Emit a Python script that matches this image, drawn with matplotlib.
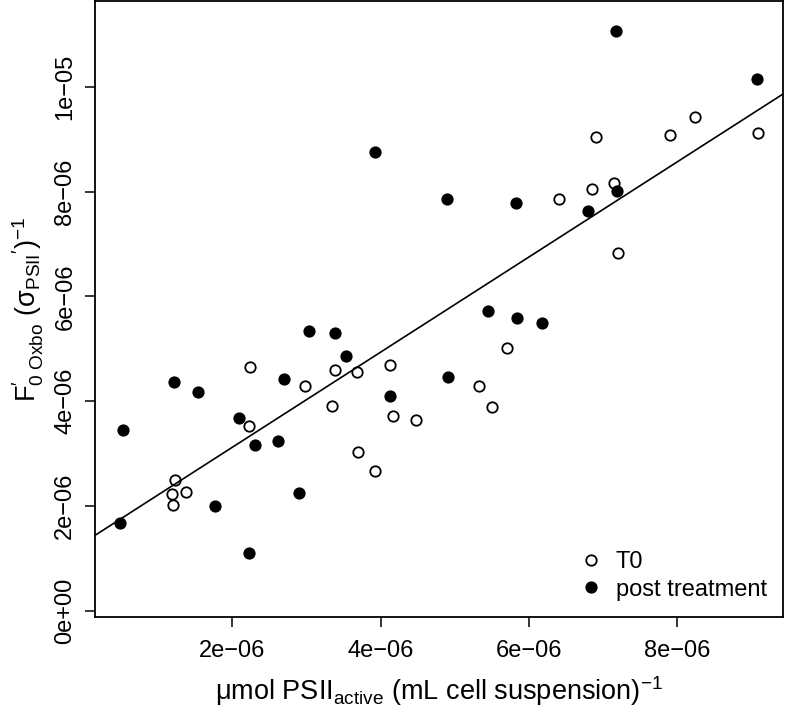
import numpy as np
import matplotlib
matplotlib.use("Agg")
import matplotlib.pyplot as plt

plt.rcParams['font.family'] = ['Liberation Sans', 'DejaVu Sans']
plt.rcParams['mathtext.fontset'] = 'custom'
plt.rcParams['mathtext.rm'] = 'Liberation Sans'
plt.rcParams['mathtext.it'] = 'Liberation Sans'
plt.rcParams['mathtext.bf'] = 'Liberation Sans:bold'

# values in units of 1e-6
t0_x = [2.24, 4.12, 3.38, 3.68, 2.98, 3.35, 4.17, 2.23, 3.70, 3.93, 1.22, 1.19, 1.37,
        1.20, 4.47, 5.33, 5.50, 5.70, 7.20, 6.41, 6.85, 7.14, 6.91, 7.90, 8.24, 9.09]
t0_y = [4.66, 4.69, 4.59, 4.56, 4.28, 3.91, 3.72, 3.52, 3.02, 2.67, 2.49, 2.23, 2.27,
        2.02, 3.64, 4.28, 3.88, 5.01, 6.83, 7.86, 8.05, 8.16, 9.05, 9.09, 9.42, 9.12]
post_x = [3.93, 3.03, 3.38, 3.53, 7.18, 9.08, 4.90, 5.82, 7.19, 6.80, 5.45, 5.84, 6.17,
          1.21, 2.69, 1.54, 4.12, 2.09, 0.52, 2.31, 2.61, 1.77, 2.90, 0.49, 2.23, 4.91]
post_y = [8.75, 5.34, 5.31, 4.87, 11.06, 10.15, 7.86, 7.78, 8.02, 7.63, 5.72, 5.58, 5.50,
          4.36, 4.42, 4.17, 4.10, 3.68, 3.45, 3.17, 3.23, 2.00, 2.25, 1.68, 1.11, 4.47]

xticks = [2e-6, 4e-6, 6e-6, 8e-6]
xtick_labels = ["2e\u221206", "4e\u221206", "6e\u221206", "8e\u221206"]
yticks = [0, 2e-6, 4e-6, 6e-6, 8e-6, 1e-5]
ytick_labels = ["0e+00", "2e\u221206", "4e\u221206", "6e\u221206", "8e\u221206", "1e\u221205"]

sc = 1e-6
tx = np.array(t0_x) * sc
ty = np.array(t0_y) * sc
px = np.array(post_x) * sc
py = np.array(post_y) * sc

fig = plt.figure(figsize=(7.86, 7.18), dpi=100)
ax = fig.add_axes([0.1209, 0.1403, 0.8757, 0.8583])

ax.plot(tx, ty, 'o', mfc='white', mec='black', mew=1.3, ms=7.5, ls='none', label='T0')
ax.plot(px, py, 'o', mfc='black', mec='black', mew=1.3, ms=7.5, ls='none', label='post treatment')

# least squares line through all points
allx = np.concatenate([tx, px])
ally = np.concatenate([ty, py])
slope, icpt = np.polyfit(allx, ally, 1)
xl = np.array([0.148e-6, 9.43e-6])
ax.plot(xl, icpt + slope * xl, color='black', lw=1.2)

ax.set_xlim(0.148e-6, 9.43e-6)
ax.set_ylim(-0.126e-6, 11.64e-6)

ax.set_xticks(xticks)
ax.set_xticklabels(xtick_labels)
ax.set_yticks(yticks)
ax.set_yticklabels(ytick_labels, rotation=90, va='center')
ax.tick_params(axis='both', direction='out', length=7.5, width=1.1, labelsize=17)
ax.tick_params(axis='x', pad=9)
ax.tick_params(axis='y', pad=6)
for s in ax.spines.values():
    s.set_linewidth(1.3)

ax.set_xlabel(r"$\mathregular{\mu mol\ PSII_{active}\ (mL\ cell\ suspension)^{-1}}$",
              fontsize=19.5, labelpad=9)
ax.set_ylabel(r"$\mathregular{F_{0\ Oxbo}^{\prime}\ (\sigma_{PSII}{}^{\prime})^{-1}}$",
              fontsize=19.5, labelpad=6)

ax.legend(loc='lower right', frameon=False, fontsize=17, handletextpad=0.3,
          borderaxespad=0.3, labelspacing=0.25, handlelength=1.5)

fig.savefig("out.png", dpi=100)
